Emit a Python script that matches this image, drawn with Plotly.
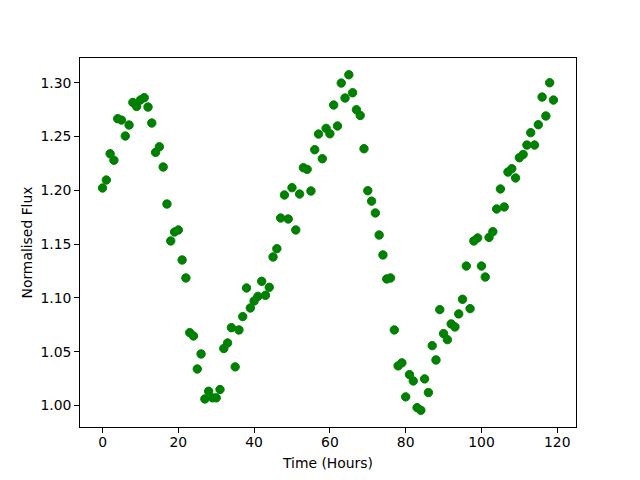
import plotly.graph_objects as go

time_hours = list(range(120))
flux = [
    1.2022, 1.2096, 1.2340, 1.2280, 1.2666, 1.2653, 1.2505, 1.2607, 1.2817, 1.2780,
    1.2840, 1.2861, 1.2774, 1.2626, 1.2353, 1.2405, 1.2217, 1.1873, 1.1530, 1.1613,
    1.1632, 1.1353, 1.1186, 1.0678, 1.0647, 1.0340, 1.0480, 1.0062, 1.0133, 1.0072,
    1.0072, 1.0149, 1.0530, 1.0582, 1.0724, 1.0360, 1.0703, 1.0827, 1.1093, 1.0907,
    1.0972, 1.1015, 1.1155, 1.1025, 1.1099, 1.1381, 1.1458, 1.1743, 1.1957, 1.1734,
    1.2025, 1.1632, 1.1966, 1.2210, 1.2195, 1.1994, 1.2378, 1.2523, 1.2294, 1.2576,
    1.2526, 1.2793, 1.2598, 1.2997, 1.2858, 1.3074, 1.2907, 1.2749, 1.2696, 1.2387,
    1.1997, 1.1900, 1.1790, 1.1585, 1.1400, 1.1177, 1.1186, 1.0703, 1.0369, 1.0397,
    1.0081, 1.0288, 1.0229, 0.9981, 0.9957, 1.0248, 1.0121, 1.0557, 1.0424, 1.0892,
    1.0669, 1.0613, 1.0759, 1.0731, 1.0852, 1.0988, 1.1297, 1.0901, 1.1530, 1.1558,
    1.1297, 1.1195, 1.1563, 1.1616, 1.1827, 1.2013, 1.1846, 1.2170, 1.2201, 1.2115,
    1.2303, 1.2334, 1.2421, 1.2536, 1.2421, 1.2610, 1.2867, 1.2691, 1.3000, 1.2839,
]
x_ticks = [0, 20, 40, 60, 80, 100, 120]
y_ticks = [1.00, 1.05, 1.10, 1.15, 1.20, 1.25, 1.30]
y_tick_labels = ["1.00", "1.05", "1.10", "1.15", "1.20", "1.25", "1.30"]

xmin, xmax = min(time_hours), max(time_hours)
ymin, ymax = min(flux), max(flux)
xpad = 0.05 * (xmax - xmin)
ypad = 0.05 * (ymax - ymin)

font = dict(family="DejaVu Sans", size=13.9, color="black")

fig = go.Figure(
    go.Scatter(
        x=time_hours, y=flux, mode="markers",
        marker=dict(color="#008000", size=8.4, line=dict(color="#008000", width=1)),
    )
)
axis_common = dict(
    showgrid=False, zeroline=False, showline=True, linecolor="black", linewidth=1,
    mirror=True, ticks="outside", ticklen=4.9, tickwidth=1, tickcolor="black",
    tickfont=font, automargin=False,
)
fig.update_layout(
    template="none",
    width=640, height=480,
    margin=dict(l=80, r=64, t=57.6, b=52.8, pad=0),
    paper_bgcolor="white", plot_bgcolor="white",
    showlegend=False,
    font=font,
    xaxis=dict(range=[xmin - xpad, xmax + xpad], tickvals=x_ticks, ticklabelstandoff=-3,
               title=dict(text="Time (Hours)", font=font, standoff=9), **axis_common),
    yaxis=dict(range=[ymin - ypad, ymax + ypad], tickvals=y_ticks, ticktext=y_tick_labels,
               title=dict(text="Normalised Flux", font=font, standoff=4), **axis_common),
)
fig.write_html(
    "out.html",
    config={"displayModeBar": False},
    post_script="document.body.style.margin='0';document.body.style.overflow='hidden';",
)
